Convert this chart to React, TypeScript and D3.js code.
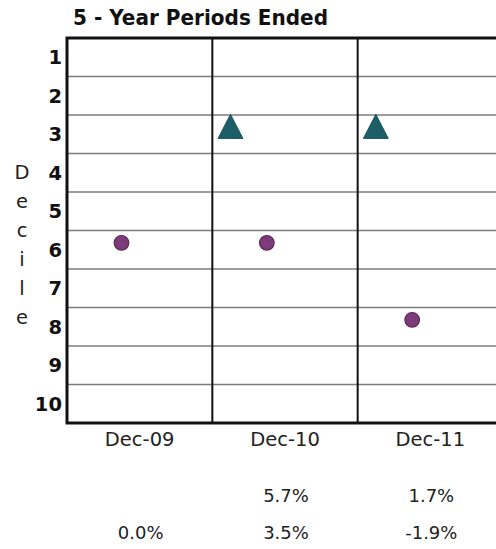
import { useEffect, useRef } from 'react';
import * as d3 from 'd3';

// chart data
const periods = ['Dec-09', 'Dec-10', 'Dec-11'];
const deciles = [1, 2, 3, 4, 5, 6, 7, 8, 9, 10];
const triangleDecile: (number | null)[] = [null, 2.9, 2.9];
const circleDecile: (number | null)[] = [5.82, 5.82, 7.82];
const triangleReturn: (number | null)[] = [null, 5.7, 1.7];
const circleReturn: (number | null)[] = [0.0, 3.5, -1.9];
const axisLetters = ['D', 'e', 'c', 'i', 'l', 'e'];
const title = '5 - Year Periods Ended';

const W = 496;
const H = 549;
const FONT = '"DejaVu Sans", sans-serif';

const App: any = () => {
  const svgRef = useRef<any>(null);

  useEffect(() => {
    const svg = d3.select(svgRef.current);
    svg.selectAll('*').remove();

    const plot = { left: 67, top: 38, right: 503, bottom: 423 };

    // columns (periods)
    const x = d3.scaleBand().domain(periods).range([plot.left, plot.right]);
    // slots inside each column, first two are used by the markers
    const slot = d3.scaleBand()
      .domain(['triangle', 'circle', 's3', 's4'])
      .range([0, x.bandwidth()]);

    // decile scale
    const y = d3.scaleLinear().domain([0.5, 10.5]).range([plot.top, plot.bottom]);

    // title
    svg.append('text')
      .attr('x', 73)
      .attr('y', 25)
      .attr('font-family', FONT)
      .attr('font-weight', 'bold')
      .attr('font-size', 21.5)
      .attr('textLength', 255)
      .attr('lengthAdjust', 'spacingAndGlyphs')
      .attr('fill', '#111')
      .text(title);

    // horizontal grid lines
    svg.append('g')
      .selectAll('line')
      .data(deciles.slice(0, -1))
      .join('line')
      .attr('x1', plot.left)
      .attr('x2', W)
      .attr('y1', (d) => y(d + 0.5))
      .attr('y2', (d) => y(d + 0.5))
      .attr('stroke', '#7c7c7c')
      .attr('stroke-width', 1.3);

    // column dividers
    svg.append('g')
      .selectAll('line')
      .data(periods.slice(1))
      .join('line')
      .attr('x1', (d) => x(d)!)
      .attr('x2', (d) => x(d)!)
      .attr('y1', plot.top)
      .attr('y2', plot.bottom)
      .attr('stroke', '#111')
      .attr('stroke-width', 2);

    // outer border (left, top, bottom)
    svg.append('path')
      .attr('d', `M${W + 5},${plot.top}H${plot.left}V${plot.bottom}H${W + 5}`)
      .attr('fill', 'none')
      .attr('stroke', '#111')
      .attr('stroke-width', 3);

    // decile labels
    svg.append('g')
      .selectAll('text')
      .data(deciles)
      .join('text')
      .attr('x', 62)
      .attr('y', (d) => y(d))
      .attr('dy', '0.36em')
      .attr('text-anchor', 'end')
      .attr('font-family', FONT)
      .attr('font-weight', 'bold')
      .attr('font-size', 19.5)
      .attr('fill', '#111')
      .text((d) => d);

    // vertical "Decile" axis title
    const letterStep = 29;
    svg.append('g')
      .selectAll('text')
      .data(axisLetters)
      .join('text')
      .attr('x', 22)
      .attr('y', (_d, i) => 172 + i * letterStep)
      .attr('dy', '0.36em')
      .attr('text-anchor', 'middle')
      .attr('font-family', FONT)
      .attr('font-size', 19.5)
      .attr('fill', '#222')
      .text((d) => d);

    // period labels
    svg.append('g')
      .selectAll('text')
      .data(periods)
      .join('text')
      .attr('x', (d) => x(d)! + x.bandwidth() / 2)
      .attr('y', 446)
      .attr('text-anchor', 'middle')
      .attr('font-family', FONT)
      .attr('font-size', 19.5)
      .attr('fill', '#222')
      .text((d) => d);

    // triangles
    const tri = d3.symbol().type(d3.symbolTriangle).size(270);
    svg.append('g')
      .selectAll('path')
      .data(periods.map((p, i) => ({ p, v: triangleDecile[i] })).filter((d) => d.v !== null))
      .join('path')
      .attr('d', tri() as string)
      .attr('transform', (d) => `translate(${x(d.p)! + slot('triangle')! + slot.bandwidth() / 2},${y(d.v as number)}) scale(1,1.12)`)
      .attr('fill', '#1b5e68')
      .attr('stroke', '#154a52')
      .attr('stroke-width', 0.8);

    // circles
    svg.append('g')
      .selectAll('circle')
      .data(periods.map((p, i) => ({ p, v: circleDecile[i] })).filter((d) => d.v !== null))
      .join('circle')
      .attr('cx', (d) => x(d.p)! + slot('circle')! + slot.bandwidth() / 2)
      .attr('cy', (d) => y(d.v as number))
      .attr('r', 7.3)
      .attr('fill', '#7d3b7a')
      .attr('stroke', '#5a2757')
      .attr('stroke-width', 1.2);

    // return rows
    const fmt = (v: number) => v.toFixed(1) + '%';
    const rows = [
      { values: triangleReturn, yPos: 502 },
      { values: circleReturn, yPos: 539 },
    ];
    rows.forEach((row) => {
      svg.append('g')
        .selectAll('text')
        .data(periods.map((p, i) => ({ p, v: row.values[i] })).filter((d) => d.v !== null))
        .join('text')
        .attr('x', (d) => x(d.p)! + x.bandwidth() / 2 + 1)
        .attr('y', row.yPos)
        .attr('text-anchor', 'middle')
        .attr('font-family', FONT)
        .attr('font-size', 18)
        .attr('fill', '#222')
        .text((d) => fmt(d.v as number));
    });
  }, []);

  return (
    <svg
      ref={svgRef}
      width={W}
      height={H}
      style={{ position: 'absolute', left: 0, top: 0, background: '#fff' }}
    />
  );
};

export default App;
